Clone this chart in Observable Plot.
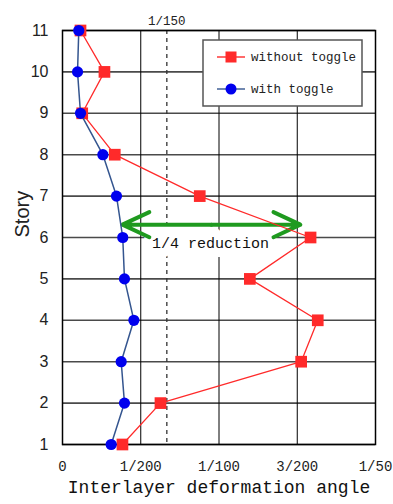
<!DOCTYPE html>
<html>
<head>
<meta charset="utf-8">
<script src="https://cdn.jsdelivr.net/npm/d3@7"></script>
<script src="https://cdn.jsdelivr.net/npm/@observablehq/plot@0.6"></script>
<style>
  html, body { margin: 0; padding: 0; background: #fff; }
  #chart { position: relative; width: 393px; height: 504px; }
</style>
</head>
<body>
<div id="chart"></div>
<script>
// Data
const stories = [1, 2, 3, 4, 5, 6, 7, 8, 9, 10, 11];
const withoutToggle = [0.00383, 0.00626, 0.01525, 0.01631, 0.01197, 0.01585, 0.00877, 0.00334, 0.00126, 0.00268, 0.00115];
const withToggle = [0.00311, 0.00396, 0.00375, 0.00456, 0.00396, 0.00385, 0.00345, 0.00258, 0.00115, 0.00096, 0.00104];
const xTickValues = [0, 0.005, 0.01, 0.015, 0.02];
const xTickLabels = ["0", "1/200", "1/100", "3/200", "1/50"];
const gridX = [0.005, 0.01, 0.015];
const limitValue = 1 / 150;
const limitLabel = "1/150";
const seriesNames = ["without toggle", "with toggle"];
const arrowStart = 0.00383;
const arrowEnd = 0.0152;
const arrowStory = 6.31;
const noteText = "1/4 reduction";
const noteX = 0.00946;
const noteStory = 5.86;

const redData = stories.map((s, i) => ({story: s, v: withoutToggle[i]}));
const blueData = stories.map((s, i) => ({story: s, v: withToggle[i]}));
const mid = (arrowStart + arrowEnd) / 2;
const arrows = [{a: mid, b: arrowStart, y: arrowStory}, {a: mid, b: arrowEnd, y: arrowStory}];

const mono = "'Liberation Mono', 'DejaVu Sans Mono', monospace";
const sans = "'Liberation Sans', Arial, sans-serif";
const RED = "#ff2a2a";
const BLUE = "#0000ee";
const NAVY = "#34558f";
const GREEN = "#1f9a1f";

const plot = Plot.plot({
  width: 393,
  height: 504,
  marginLeft: 62,
  marginRight: 18,
  marginTop: 30,
  marginBottom: 60,
  style: {background: "#fff", overflow: "visible"},
  x: {domain: [0, 0.02], axis: null},
  y: {domain: [1, 11], axis: null},
  marks: [
    Plot.ruleY(stories, {y: d => d, stroke: "#4a4a4a", strokeWidth: 1.6}),
    Plot.ruleX(gridX, {x: d => d, stroke: "#000", strokeWidth: 1}),
    Plot.ruleX([limitValue], {x: d => d, stroke: "#333", strokeWidth: 1.3, strokeDasharray: "4,4"}),
    Plot.frame({stroke: "#000", strokeWidth: 1.5}),
    Plot.text([noteText], {x: noteX, y: noteStory, text: d => d, fontFamily: mono, fontSize: 15, fill: "#111", stroke: "#fff", strokeWidth: 18, strokeLinejoin: "round", paintOrder: "stroke"}),
    Plot.arrow(arrows, {x1: "a", x2: "b", y1: "y", y2: "y", bend: 0, stroke: GREEN, strokeWidth: 4, headLength: 14, headAngle: 50}),
    Plot.line(redData, {x: "v", y: "story", stroke: RED, strokeWidth: 1.3}),
    Plot.dot(redData, {x: "v", y: "story", symbol: "square", r: 6.6, fill: RED, stroke: "none"}),
    Plot.line(blueData, {x: "v", y: "story", stroke: NAVY, strokeWidth: 1.5}),
    Plot.dot(blueData, {x: "v", y: "story", symbol: "circle", r: 5.6, fill: BLUE, stroke: "none"}),
    // tick labels
    Plot.text(stories, {y: d => d, frameAnchor: "left", dx: -14, textAnchor: "end", text: d => String(d), fontFamily: sans, fontSize: 16, fill: "#222"}),
    Plot.text(xTickValues, {x: d => d, frameAnchor: "bottom", dy: 26, text: (d, i) => xTickLabels[i], fontFamily: mono, fontSize: 14, fill: "#222"}),
    Plot.text([limitLabel], {x: limitValue, frameAnchor: "top", dy: -14, text: d => d, fontFamily: mono, fontSize: 12.5, fill: "#222"}),
    // axis titles
    Plot.text(["Interlayer deformation angle"], {frameAnchor: "bottom", dy: 48, text: d => d, fontFamily: mono, fontSize: 18, fill: "#111"}),
    Plot.text(["Story"], {frameAnchor: "left", dx: -40, rotate: -90, text: d => d, fontFamily: sans, fontSize: 20, fill: "#222"})
  ]
});

document.getElementById("chart").appendChild(plot);

// Legend
const svg = d3.select(plot);
const lg = svg.append("g").attr("text-anchor", "start");
lg.append("rect").attr("x", 203).attr("y", 40).attr("width", 159).attr("height", 66)
  .attr("fill", "#fff").attr("stroke", "#555").attr("stroke-width", 1.5);
const entries = [
  {name: seriesNames[0], y: 57, line: RED, kind: "square", fill: RED},
  {name: seriesNames[1], y: 89, line: NAVY, kind: "circle", fill: BLUE}
];
entries.forEach(e => {
  lg.append("line").attr("x1", 217).attr("x2", 245).attr("y1", e.y).attr("y2", e.y)
    .attr("stroke", e.line).attr("stroke-width", 1.4);
  if (e.kind === "square") {
    lg.append("rect").attr("x", 231 - 5.5).attr("y", e.y - 5.5).attr("width", 11).attr("height", 11).attr("fill", e.fill);
  } else {
    lg.append("circle").attr("cx", 231).attr("cy", e.y).attr("r", 5.5).attr("fill", e.fill);
  }
  lg.append("text").attr("x", 251).attr("y", e.y).attr("dy", "0.35em").attr("text-anchor", "start")
    .attr("font-family", mono).attr("font-size", 12.5).attr("fill", "#222").text(e.name);
});
</script>
</body>
</html>
